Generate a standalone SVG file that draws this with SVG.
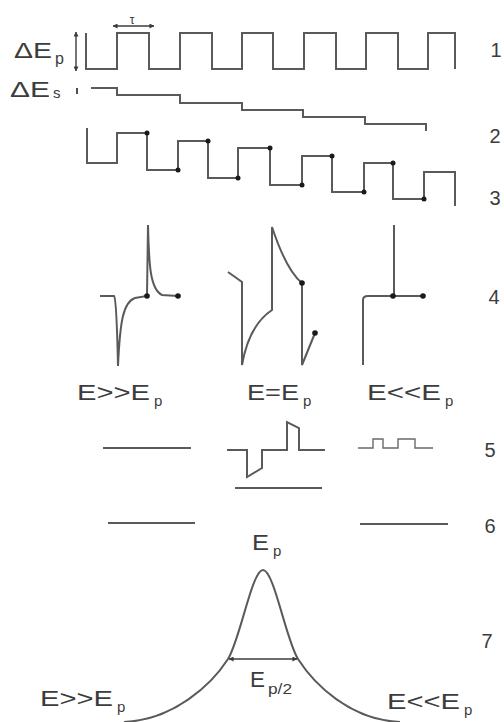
<svg xmlns="http://www.w3.org/2000/svg" width="504" height="722" viewBox="0 0 504 722">
<style>
.ln{fill:none;stroke:#5a5a5a;stroke-width:2;stroke-linejoin:miter}
.th{fill:none;stroke:#6a6a6a;stroke-width:1.4}
.dot{fill:#1a1a1a}
text{font-family:"Liberation Sans",Arial,sans-serif;fill:#3c3c3c}
.lab{font-size:22px}
.sub{font-size:15px}
.num{font-size:20px;text-anchor:middle}
</style>
<defs>
<marker id="ah" viewBox="0 0 6 6" refX="5.5" refY="3" markerWidth="5" markerHeight="5" markerUnits="userSpaceOnUse" orient="auto-start-reverse">
<path d="M0,0 L6,3 L0,6 z" fill="#3c3c3c"/>
</marker>
</defs>
<rect width="504" height="722" fill="#ffffff"/>

<g id="row1">
<path class="ln" d="M86,33 V69 H117 V33 H149 V69 H180 V33 H212 V69 H242 V33 H273 V69 H304 V33 H336 V69 H366 V33 H398 V69 H428 V33 H455 V69"/>
<line x1="76" y1="32" x2="76" y2="71" stroke="#3c3c3c" stroke-width="1.4" marker-start="url(#ah)" marker-end="url(#ah)"/>
<line x1="113" y1="26" x2="154" y2="26" stroke="#3c3c3c" stroke-width="1.4" marker-start="url(#ah)" marker-end="url(#ah)"/>
<text x="132" y="24" font-size="12" text-anchor="middle">τ</text>
<text class="lab" x="14" y="58" textLength="38" lengthAdjust="spacingAndGlyphs">ΔE</text>
<text x="55" y="64" font-size="16">p</text>
<text class="num" x="496" y="57">1</text>
</g>

<g id="row2">
<path class="ln" d="M91,88 H117 V95 H180 V103 H242 V110 H303 V117 H365 V124 H426 V131"/>
<text class="lab" x="10" y="97" textLength="40" lengthAdjust="spacingAndGlyphs">ΔE</text>
<text x="53" y="98" font-size="15">s</text>
<line x1="77" y1="88" x2="77" y2="94" stroke="#3c3c3c" stroke-width="1.8"/>
<text class="num" x="495" y="143">2</text>
</g>

<g id="row3">
<path class="ln" d="M87,128 V163 H117 V133 H147 V170 H178 V141 H208 V178 H238 V148 H270 V185 H302 V156 H332 V192 H364 V163 H393 V199 H424 V172 H455 V206"/>
<circle class="dot" cx="147" cy="133" r="2.5"/>
<circle class="dot" cx="178" cy="170" r="2.5"/>
<circle class="dot" cx="208" cy="141" r="2.5"/>
<circle class="dot" cx="238" cy="178" r="2.5"/>
<circle class="dot" cx="270" cy="148" r="2.5"/>
<circle class="dot" cx="302" cy="185" r="2.5"/>
<circle class="dot" cx="332" cy="156" r="2.5"/>
<circle class="dot" cx="364" cy="192" r="2.5"/>
<circle class="dot" cx="393" cy="163" r="2.5"/>
<circle class="dot" cx="424" cy="199" r="2.5"/>
<text class="num" x="495" y="205">3</text>
</g>

<g id="row4">
<path class="ln" d="M100,296 L114,296 C116,298 117,320 118,366 C120,322 123,302 135,298 L147,296 L148,225 C149,265 150,289 162,295 L178,296"/>
<circle class="dot" cx="147" cy="296" r="2.8"/>
<circle class="dot" cx="178" cy="296" r="2.8"/>
<path class="ln" d="M228,272 L242,282 L242,365 C246,342 254,322 272,310 L272,227 C278,245 288,272 302,283 L302,365 L315,333"/>
<circle class="dot" cx="302" cy="283" r="2.8"/>
<circle class="dot" cx="315" cy="333" r="2.8"/>
<path class="ln" d="M363,365 L363,300 Q363,296 368,296 L423,296 M394,225 L394,296"/>
<circle class="dot" cx="393" cy="296" r="2.8"/>
<circle class="dot" cx="423" cy="296" r="2.8"/>
<text class="num" x="494" y="304">4</text>
</g>

<g id="labels-mid">
<text class="lab" x="77" y="400" textLength="73" lengthAdjust="spacingAndGlyphs">E&gt;&gt;E</text>
<text class="sub" x="154" y="406">p</text>
<text class="lab" x="247" y="400" textLength="52" lengthAdjust="spacingAndGlyphs">E=E</text>
<text class="sub" x="303" y="406">p</text>
<text class="lab" x="367" y="400" textLength="74" lengthAdjust="spacingAndGlyphs">E&lt;&lt;E</text>
<text class="sub" x="445" y="406">p</text>
</g>

<g id="row5">
<path class="ln" d="M103,448 H191"/>
<path class="ln" d="M227,450 H247 V477 L262,468 V450 H287 V422 L299,428 V450 H325"/>
<path class="ln" d="M235,488 H322"/>
<path class="th" d="M358,448 H373 V439 H383 V448 H398 V439 H415 V448 H433"/>
<text class="num" x="490" y="457">5</text>
</g>

<g id="row6">
<path class="ln" d="M108,523 H195"/>
<path class="ln" d="M360,524 H448"/>
<text class="num" x="490" y="533">6</text>
</g>

<g id="row7">
<path class="ln" d="M124,722 C174,720 212,684 228,659 C240,640 252,570 263,570 C274,570 286,640 298,659 C314,684 350,720 400,722"/>
<line x1="229" y1="659" x2="297" y2="659" stroke="#3c3c3c" stroke-width="1.4" marker-start="url(#ah)" marker-end="url(#ah)"/>
<text class="lab" x="252" y="550" textLength="17" lengthAdjust="spacingAndGlyphs">E</text>
<text class="sub" x="273" y="556">p</text>
<text class="lab" x="250" y="687" textLength="15" lengthAdjust="spacingAndGlyphs">E</text>
<text class="sub" x="268" y="694" textLength="24" lengthAdjust="spacingAndGlyphs">p/2</text>
<text class="lab" x="40" y="706" textLength="73" lengthAdjust="spacingAndGlyphs">E&gt;&gt;E</text>
<text class="sub" x="117" y="712">p</text>
<text class="lab" x="387" y="709" textLength="73" lengthAdjust="spacingAndGlyphs">E&lt;&lt;E</text>
<text class="sub" x="464" y="715">p</text>
<text class="num" x="487" y="648">7</text>
</g>
</svg>
